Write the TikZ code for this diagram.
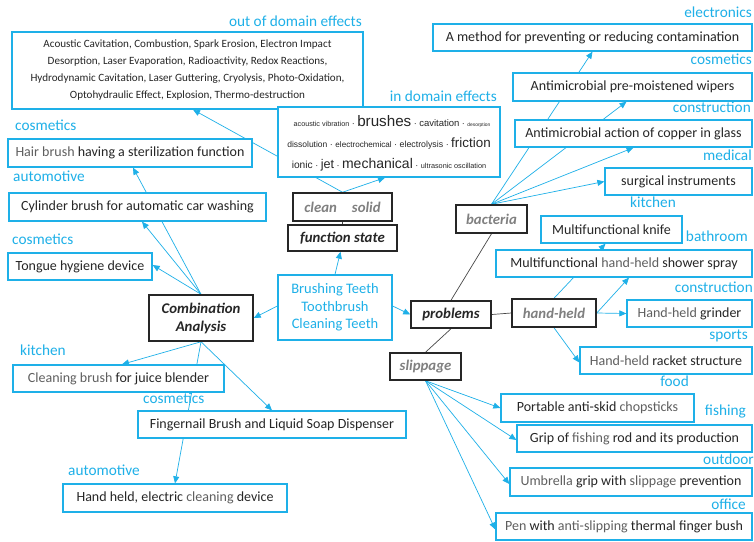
\documentclass[tikz,border=0pt]{standalone}
\usepackage{fontspec}
\setmainfont{Carlito}
\newfontfamily\arialf{Liberation Sans}
\usetikzlibrary{arrows.meta,calc}
\definecolor{cy}{RGB}{30,176,232}
\definecolor{tx}{RGB}{38,38,38}
\definecolor{tg}{RGB}{95,95,95}
\definecolor{gl}{RGB}{128,128,128}
\pgfdeclarelayer{back}
\pgfdeclarelayer{bg}
\pgfsetlayers{back,bg,main}
\newcommand\fs[1]{\fontsize{#1}{#1}\selectfont}
\newcommand\gw[1]{\textcolor{tg}{#1}}
\newcommand\mybox[7]{\node[#6,minimum width={(#4-#2)*1pt},minimum height={(#5-#3)*1pt}] (#1) at ({(#2+#4)/2},{(#3+#5)/2}) {#7};}
\newcommand\sep{\textcolor{tx}{\fs{9}\ ·\ }}
\begin{document}
\begin{tikzpicture}[x=1pt,y=-1pt,
  cbox/.style={draw=cy,line width=1.3pt,fill=white,inner sep=0pt,text=tx,font=\fs{14}},
  kbox/.style={draw=tx,line width=1.5pt,fill=white,inner sep=0pt,text=tx,font=\fs{14.8}\bfseries\itshape},
  gbox/.style={kbox,text=gl},
  lab/.style={text=cy,font=\fs{15.3},inner sep=0pt},
  arr/.style={cy,line width=0.7pt,-{Triangle[length=7pt,width=6pt]}},
  ln/.style={cy,line width=0.7pt},
  kl/.style={tx!85,line width=0.7pt}]
\begin{pgfonlayer}{back}
\fill[white] (0,0) rectangle (754,541);
\end{pgfonlayer}
\useasboundingbox (0,0) rectangle (754,541);

% boxes
\mybox{ood}{12}{32}{363}{109}{cbox,align=center,font=\fontsize{11.1}{17}\selectfont}{Acoustic Cavitation, Combustion, Spark Erosion, Electron Impact\\Desorption, Laser Evaporation, Radioactivity, Redox Reactions,\\Hydrodynamic Cavitation, Laser Guttering, Cryolysis, Photo-Oxidation,\\Optohydraulic Effect, Explosion, Thermo-destruction}
\mybox{ind}{278}{107}{500}{177}{cbox}{}
\node[anchor=base,inner sep=0pt,text=tx,font=\arialf] (w1) at (392,126) {{\fs{7.2}acoustic vibration}\sep{\fs{15.2}brushes}\sep{\fs{9.5}cavitation}\sep{\fs{4.9}desorption}};
\node[anchor=base,inner sep=0pt,text=tx,font=\arialf] (w2) at (389,147) {{\fs{8.5}dissolution}\sep{\fs{8.1}electrochemical}\sep{\fs{8.8}electrolysis}\sep{\fs{13.4}friction}};
\node[anchor=base,inner sep=0pt,text=tx,font=\arialf] (w3) at (389,168) {{\fs{10.2}ionic}\sep{\fs{12.6}jet}\sep{\fs{14}mechanical}\sep{\fs{7.3}ultrasonic oscillation}};
\mybox{clean}{293}{193}{392}{221}{gbox}{clean\hspace{15pt}solid}
\mybox{func}{288}{225}{397}{251}{kbox}{function state}
\mybox{cen}{278}{275}{392}{340}{cbox,text=cy,align=center,font=\fontsize{14.5}{17.5}\selectfont}{Brushing Teeth\\Toothbrush\\Cleaning Teeth}
\mybox{comb}{149}{295}{253}{341}{kbox,align=center,font=\fontsize{14.8}{18}\selectfont\bfseries\itshape}{Combination\\Analysis}
\mybox{hair}{8}{139}{252}{167}{cbox}{\gw{Hair brush} having a sterilization function}
\mybox{cyl}{9}{193}{266}{221}{cbox}{Cylinder brush for automatic car washing}
\mybox{tongue}{8}{253}{152}{280}{cbox}{Tongue hygiene device}
\mybox{brush}{13}{365}{224}{392}{cbox}{\gw{Cleaning brush} for juice blender}
\mybox{finger}{138}{411}{406}{438}{cbox}{Fingernail Brush and Liquid Soap Dispenser}
\mybox{elec}{63}{484}{287}{512}{cbox}{Hand held, electric \gw{cleaning} device}
\mybox{prob}{411}{301}{491}{328}{kbox}{problems}
\mybox{hh}{512}{299}{596}{327}{gbox}{hand-held}
\mybox{bact}{456}{205}{527}{233}{gbox}{bacteria}
\mybox{slip}{390}{353}{461}{380}{gbox}{slippage}
\mybox{method}{433}{24}{752}{51}{cbox}{A method for preventing or reducing contamination}
\mybox{wipers}{513}{73}{752}{101}{cbox}{Antimicrobial pre-moistened wipers}
\mybox{copper}{515}{120}{752}{147}{cbox}{Antimicrobial action of copper in glass}
\mybox{surg}{605}{168}{752}{195}{cbox}{surgical instruments}
\mybox{knife}{541}{216}{682}{243}{cbox}{Multifunctional knife}
\mybox{shower}{496}{250}{752}{277}{cbox}{Multifunctional \gw{hand-held} shower spray}
\mybox{grinder}{627}{300}{752}{327}{cbox}{\gw{Hand-held} grinder}
\mybox{racket}{580}{347}{752}{374}{cbox}{\gw{Hand-held} racket structure}
\mybox{chop}{501}{394}{694}{422}{cbox}{Portable anti-skid \gw{chopsticks}}
\mybox{fish}{517}{425}{752}{452}{cbox}{Grip of \gw{fishing} rod and its production}
\mybox{umb}{510}{468}{752}{496}{cbox}{\gw{Umbrella} grip with \gw{slippage} prevention}
\mybox{pen}{496}{513}{752}{540}{cbox}{\gw{Pen} with \gw{anti-slipping} thermal finger bush}

% labels
\node[lab,anchor=mid east] (l1) at (362,24) {out of domain effects};
\node[lab,anchor=mid east] (l2) at (497,99) {in domain effects};
\node[lab,anchor=mid west] (l3) at (15,128) {cosmetics};
\node[lab,anchor=mid west] (l4) at (13,179) {automotive};
\node[lab,anchor=mid west] (l5) at (12,242) {cosmetics};
\node[lab,anchor=mid west] (l6) at (20,353) {kitchen};
\node[lab,anchor=mid west] (l7) at (143,401) {cosmetics};
\node[lab,anchor=mid west] (l8) at (68,473) {automotive};
\node[lab,anchor=mid east] (l9) at (752,15) {electronics};
\node[lab,anchor=mid east] (l10) at (752,62) {cosmetics};
\node[lab,anchor=mid east] (l11) at (751,110) {construction};
\node[lab,anchor=mid east] (l12) at (752,158) {medical};
\node[lab,anchor=mid east] (l13) at (676,205) {kitchen};
\node[lab,anchor=mid east] (l14) at (748,239) {bathroom};
\node[lab,anchor=mid east] (l15) at (753,290) {construction};
\node[lab,anchor=mid east] (l16) at (748,337) {sports};
\node[lab,anchor=mid east] (l17) at (689,384) {food};
\node[lab,anchor=mid east] (l18) at (746,413) {fishing};
\node[lab,anchor=mid east] (l19) at (754,462) {outdoor};
\node[lab,anchor=mid east] (l20) at (746,507) {office};

% connectors
\begin{pgfonlayer}{bg}
\draw[arr] (clean.north) -- ([xshift=5.5pt]ood.south);
\draw[arr] (clean.north) -- ([xshift=-4pt]ind.south);
\draw[kl] (clean.south) -- (func.north);
\draw[arr] (cen.north) -- ([xshift=-2pt]func.south);
\draw[arr] ([yshift=1.5pt]cen.west) -- (comb.east);
\draw[arr] ([yshift=1.5pt]cen.east) -- (prob.west);
\draw[arr] (comb.north) -- ([xshift=3pt]hair.south);
\draw[arr] (comb.north) -- ([xshift=4.5pt]cyl.south);
\draw[arr] (comb.north) -- ([yshift=1.5pt]tongue.east);
\draw[arr] (comb.south) -- ([xshift=3.5pt]brush.north);
\draw[arr] (comb.south) -- (finger.north);
\draw[arr] (comb.south) -- (elec.north);
\draw[kl] (prob.north) -- (bact.south);
\draw[kl] (prob.south) -- (slip.north);
\draw[kl] (prob.east) -- (hh.west);
\draw[arr] (bact.north) -- (method.south);
\draw[arr] (bact.north) -- ([xshift=-6pt]wipers.south);
\draw[arr] (bact.north) -- (copper.south);
\draw[arr] (bact.north) -- (surg.west);
\draw[arr] (hh.north) -- ([xshift=-6pt]knife.south);
\draw[arr] (hh.east) -- ([xshift=5pt]shower.south);
\draw[arr] (hh.east) -- (grinder.west);
\draw[arr] (hh.south) -- ([yshift=-2pt]racket.west);
\draw[arr] (slip.south) -- (chop.west);
\draw[arr] (slip.south) -- ([yshift=-1.5pt]fish.west);
\draw[arr] (slip.south) -- ([yshift=-2pt]umb.west);
\draw[arr] (slip.south) -- ([yshift=-3pt]pen.west);
\end{pgfonlayer}
\end{tikzpicture}
\end{document}
